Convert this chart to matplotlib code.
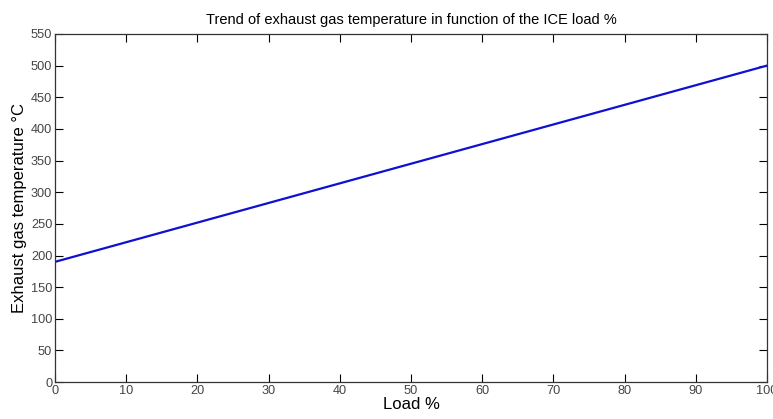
import numpy as np
import matplotlib.pyplot as plt

plt.rcParams['font.family'] = ['Liberation Sans', 'DejaVu Sans']

# data
load_pct = [0, 100]
exhaust_temp = [190, 500]
x_ticks = [0, 10, 20, 30, 40, 50, 60, 70, 80, 90, 100]
y_ticks = [0, 50, 100, 150, 200, 250, 300, 350, 400, 450, 500, 550]

fig = plt.figure(figsize=(7.73, 4.19), dpi=100)
ax = fig.add_axes([0.0712, 0.088, 0.921, 0.831])

ax.plot(load_pct, exhaust_temp, color="#1010d0", lw=1.6)

ax.set_xlim(0, 100)
ax.set_ylim(0, 550)
ax.set_xticks(x_ticks)
ax.set_yticks(y_ticks)
ax.tick_params(direction="in", top=True, right=True, length=6, width=0.8,
               labelsize=9.2, labelcolor="#444444", pad=2)
for s in ax.spines.values():
    s.set_linewidth(0.9)
    s.set_color("#333333")

ax.set_xlabel("Load %", fontsize=12, labelpad=0)
ax.set_ylabel("Exhaust gas temperature °C", fontsize=12, labelpad=3)
ax.set_title("Trend of exhaust gas temperature in function of the ICE load %",
             fontsize=10.5, pad=7)

fig.savefig("out.png", dpi=100)
